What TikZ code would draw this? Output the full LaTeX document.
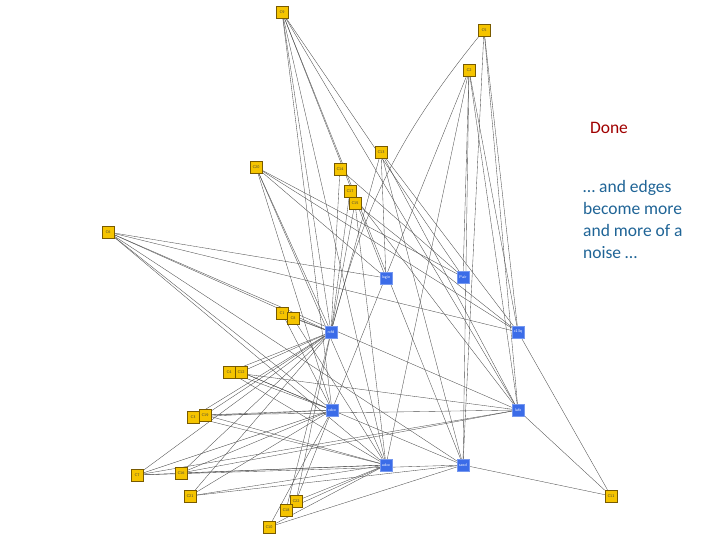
\documentclass[tikz,border=0pt]{standalone}
\usepackage{fontspec}
\newfontfamily\calibri{Carlito}
\usetikzlibrary{backgrounds}

\definecolor{yfill}{RGB}{245,196,0}
\definecolor{ydraw}{RGB}{120,90,0}
\definecolor{bfill}{RGB}{59,108,232}
\definecolor{donered}{RGB}{160,0,0}
\definecolor{noteblue}{RGB}{31,100,150}

\tikzset{
  cnode/.style={draw=ydraw, fill=yfill, line width=0.5pt, minimum size=12pt, inner sep=0pt,
    font=\fontsize{4}{4}\selectfont\sffamily, text=black!75},
  snode/.style={draw=bfill!70!white, fill=bfill, line width=0.4pt, minimum size=12pt, inner sep=0pt,
    font=\fontsize{4}{4}\selectfont\sffamily, text=white},
  link/.style={draw=black!70, line width=0.35pt}
}

\begin{document}
\begin{tikzpicture}[x=1pt,y=-1pt]
    % Fix the page to the reference size
    \useasboundingbox (0,0) rectangle (720,540);

    % Class nodes (yellow)
    \node[cnode] (C9)  at (282,12)  {C9};
    \node[cnode] (C5)  at (484,30)  {C5};
    \node[cnode] (C2)  at (469,70)  {C2};
    \node[cnode] (C13) at (381,152) {C13};
    \node[cnode] (C20) at (256,167) {C20};
    \node[cnode] (C14) at (340,169) {C14};
    \node[cnode] (C17) at (350,191) {C17};
    \node[cnode] (C15) at (355,203) {C15};
    \node[cnode] (C6)  at (108,232) {C6};
    \node[cnode] (C1)  at (282,313) {C1};
    \node[cnode] (C8)  at (293,318) {C8};
    \node[cnode] (C4)  at (229,372) {C4};
    \node[cnode] (C12) at (241,372) {C12};
    \node[cnode] (C3)  at (193,417) {C3};
    \node[cnode] (C19) at (205,415) {C19};
    \node[cnode] (C7)  at (137,475) {C7};
    \node[cnode] (C16) at (181,473) {C16};
    \node[cnode] (C21) at (190,496) {C21};
    \node[cnode] (C22) at (296,501) {C22};
    \node[cnode] (C18) at (286,510) {C18};
    \node[cnode] (C10) at (269,527) {C10};
    \node[cnode] (C11) at (611,496) {C11};

    % Service nodes (blue)
    \node[snode] (login) at (386,278) {login};
    \node[snode] (pair)  at (463,277) {Pair};
    \node[snode] (cfkg)  at (518,332) {c13q};
    \node[snode] (rcfd)  at (331,332) {rcfd};
    \node[snode] (cdce)  at (332,410) {cdce};
    \node[snode] (lufe)  at (518,410) {lufe};
    \node[snode] (udce)  at (386,465) {udce};
    \node[snode] (seed)  at (463,465) {seed};

    % The edges, behind the nodes
    \begin{scope}[on background layer]
      \foreach \a/\b in {C9/rcfd, C9/cdce, C9/udce, C9/login, C9/seed, C9/lufe, C9/pair,
          C5/cfkg, C5/lufe, C5/seed,
          C2/cdce, C2/pair, C2/seed, C2/cfkg, C2/lufe, C2/udce,
          C13/login, C13/cfkg, C13/lufe, C13/rcfd, C13/seed,
          C20/rcfd, C20/pair, C20/cfkg, C20/login, C20/udce, C20/cdce,
          C14/rcfd, C14/pair, C17/rcfd, C17/lufe, C15/rcfd, C15/cfkg, C15/udce,
          C6/login, C6/cfkg, C6/lufe, C6/rcfd, C6/cdce, C6/udce, C6/seed,
          C1/rcfd, C1/cdce, C8/rcfd, C8/udce,
          C4/rcfd, C4/cdce, C4/udce, C4/lufe, C12/rcfd, C12/cdce, C12/seed,
          C3/cdce, C3/rcfd, C3/udce, C19/cdce, C19/rcfd, C19/udce, C19/lufe,
          C7/rcfd, C7/cdce, C7/udce, C7/seed, C7/lufe,
          C16/rcfd, C16/cdce, C16/udce, C16/lufe,
          C21/rcfd, C21/cdce, C21/udce, C21/seed,
          C22/udce, C22/rcfd, C22/cdce, C18/udce, C18/rcfd,
          C10/udce, C10/cdce, C10/seed,
          C11/cfkg, C11/lufe, C11/seed}
        \draw[link] (\a) -- (\b);
      % the one bent edge
      \draw[link] (C5) to[bend right=12] (rcfd);
    \end{scope}

    % Side notes
    \node[text=donered, font=\calibri\fontsize{17.5}{20}\selectfont] (done) at (609,128) {Done};
    \node[anchor=north west, align=left, inner sep=0pt, text=noteblue,
      font=\calibri\fontsize{17.5}{22}\selectfont] (note) at (583,180)
      {\dots\ and edges\\become more\\and more of a\\noise \dots};

\end{tikzpicture}
\end{document}
